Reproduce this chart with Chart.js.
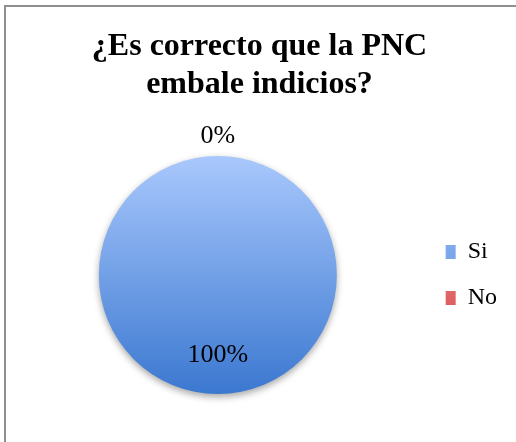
<!DOCTYPE html>
<html>
<head>
<meta charset="utf-8">
<script src="https://cdn.jsdelivr.net/npm/chart.js@4.4.1/dist/chart.umd.min.js"></script>
<style>
  html, body { margin: 0; padding: 0; background: #fff; overflow: hidden; }
  #wrap { position: relative; width: 516px; height: 442px; }
  #frame { position: absolute; left: 4px; top: 5px; width: 600px; height: 600px;
           border-left: 2px solid #8f8f8f; border-top: 2px solid #8f8f8f; }
  canvas { position: absolute; left: 0; top: 0; }
</style>
</head>
<body>
<div id="wrap">
  <div id="frame"></div>
  <canvas id="chart" width="516" height="442"></canvas>
</div>
<script>
// datos del gráfico
const titleLines = ['¿Es correcto que la PNC', 'embale indicios?'];
const categories = ['Si', 'No'];
const values = [100, 0];
const topColors = ['#a9c8fd', '#f4a3a3'];
const bottomColors = ['#3b78d0', '#d0383a'];

const serif = '"Liberation Serif", "DejaVu Serif", serif';

function sliceGradient(context) {
    const chart = context.chart;
    const area = chart.chartArea;
    if (!area) return topColors[context.dataIndex];
    const g = chart.ctx.createLinearGradient(0, area.top, 0, area.bottom);
    g.addColorStop(0, topColors[context.dataIndex]);
    g.addColorStop(1, bottomColors[context.dataIndex]);
    return g;
}

// sombra suave debajo del pastel
const shadowPlugin = {
    id: 'pieShadow',
    beforeDatasetsDraw(chart) {
        const ctx = chart.ctx;
        ctx.save();
        ctx.shadowColor = 'rgba(0,0,0,0.35)';
        ctx.shadowBlur = 7;
        ctx.shadowOffsetY = 3;
    },
    afterDatasetsDraw(chart) {
        chart.ctx.restore();
    }
};

// etiquetas de porcentaje
const pctPlugin = {
    id: 'pctLabels',
    afterDatasetsDraw(chart) {
        const ctx = chart.ctx;
        const meta = chart.getDatasetMeta(0);
        const total = values.reduce((a, b) => a + b, 0);
        ctx.save();
        ctx.font = '26px ' + serif;
        ctx.fillStyle = '#000';
        ctx.textAlign = 'center';
        ctx.textBaseline = 'middle';
        meta.data.forEach((arc, i) => {
            const p = arc.getProps(['x', 'y', 'startAngle', 'endAngle', 'outerRadius'], true);
            const mid = (p.startAngle + p.endAngle) / 2;
            const r = values[i] === 0 ? p.outerRadius + 20 : p.outerRadius * 0.67;
            const txt = Math.round(values[i] / total * 100) + '%';
            ctx.fillText(txt, p.x + Math.cos(mid) * r, p.y + Math.sin(mid) * r);
        });
        ctx.restore();
    }
};

const ctx = document.getElementById('chart').getContext('2d');
new Chart(ctx, {
    type: 'pie',
    data: {
        labels: categories,
        datasets: [{
            data: values,
            backgroundColor: sliceGradient,
            borderWidth: 0
        }]
    },
    options: {
        responsive: false,
        animation: false,
        layout: { padding: { left: 12, right: 9, top: 0, bottom: 48 } },
        plugins: {
            title: {
                display: true,
                text: titleLines,
                color: '#000',
                font: { family: serif, size: 32, weight: 'bold', lineHeight: 1.1875 },
                padding: { top: 28, bottom: 52 }
            },
            legend: {
                position: 'right',
                fullSize: false,
                labels: {
                    color: '#000',
                    font: { family: serif, size: 24 },
                    boxWidth: 10,
                    boxHeight: 14,
                    padding: 22
                }
            },
            tooltip: { enabled: false }
        }
    },
    plugins: [shadowPlugin, pctPlugin]
});
</script>
</body>
</html>
